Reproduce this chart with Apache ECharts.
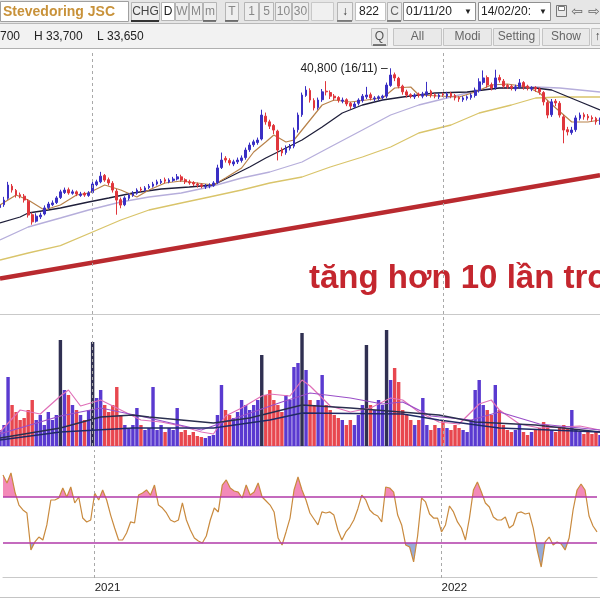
<!DOCTYPE html>
<html><head><meta charset="utf-8">
<script src="https://cdn.jsdelivr.net/npm/echarts@6/dist/echarts.min.js"></script>
<style>html,body{margin:0;padding:0;background:#fff}#c{width:600px;height:600px}</style>
</head><body><div id="c"></div>
<script>
// ---------- DATA ----------
const openP = [
21.3,21.7,22.6,24.3,23.7,23.1,22.9,22.2,20.3,19.4,
20.0,20.4,21.3,21.7,22.0,22.7,23.4,23.8,23.3,23.5,
23.0,23.3,23.0,23.4,24.5,24.9,25.8,25.2,24.7,23.6,
22.4,21.7,22.6,23.0,23.3,23.9,23.7,24.1,24.3,24.6,
24.8,25.2,24.9,25.1,25.3,25.6,25.2,24.9,24.8,24.6,
24.5,24.2,24.3,24.4,24.8,26.9,28.2,27.9,27.4,27.7,
27.9,28.3,29.4,30.1,30.4,30.9,34.1,33.3,32.8,32.0,
29.4,29.0,29.6,29.9,32.2,34.3,37.0,37.7,36.3,35.3,
36.4,37.6,37.4,36.9,36.7,36.2,36.4,35.9,35.4,35.9,
36.3,36.8,37.1,36.5,36.6,36.7,36.9,38.4,39.9,39.4,
38.3,37.5,37.1,36.8,37.2,36.9,37.1,37.6,37.1,36.8,
37.2,36.9,37.3,37.0,36.7,36.4,36.6,36.7,37.0,37.7,
38.8,39.5,38.5,38.1,39.5,39.0,38.4,38.3,37.9,38.2,
38.8,38.3,37.9,38.1,37.9,37.4,36.0,34.3,36.2,35.9,
34.0,32.2,31.8,32.2,33.8,34.3,34.1,33.9,33.8,33.2];
const closeP = [
21.65,22.35,24.45,23.75,23.05,22.9,22.35,20.25,19.3,20.1,
20.25,21.25,21.8,21.95,22.65,23.5,23.75,23.35,23.5,23.2,
23.2,23.05,23.35,24.6,24.9,25.7,25.15,24.75,23.75,22.35,
21.65,22.65,23.05,23.35,23.75,23.75,24.05,24.3,24.6,24.9,
25.0,25.0,25.15,25.3,25.6,25.15,24.9,24.75,24.6,24.45,
24.3,24.3,24.45,24.75,26.85,27.95,27.95,27.55,27.7,27.95,
28.25,29.35,30.05,30.5,30.75,34.25,33.3,32.7,32.15,29.35,
28.95,29.65,29.9,32.15,34.25,37.05,37.75,36.35,35.25,36.35,
37.5,37.5,36.9,36.65,36.35,36.35,35.8,35.5,35.8,36.35,
36.9,37.05,36.65,36.65,36.8,36.9,38.45,39.85,39.45,38.3,
37.5,37.05,36.9,37.05,37.05,37.2,37.5,37.05,36.9,37.05,
37.05,37.2,36.9,36.65,36.5,36.65,36.8,37.05,37.75,38.9,
39.45,38.45,38.05,39.45,39.15,38.3,38.2,38.05,38.2,38.75,
38.2,38.05,38.05,37.9,37.5,36.1,34.25,36.1,35.95,34.25,
32.15,31.9,32.15,33.85,34.25,34.0,33.85,33.7,33.3,33.55];
const highP = [
22.1,22.8,24.9,24.6,23.9,23.4,23.2,22.5,20.6,20.5,
20.6,21.6,22.1,22.3,22.9,23.8,24.1,24.1,23.8,23.7,
23.5,23.5,23.6,24.9,25.2,26.3,26.0,25.5,25.0,23.9,
22.7,22.9,23.3,23.6,24.0,24.2,24.3,24.6,24.9,25.2,
25.3,25.5,25.4,25.6,26.0,25.9,25.4,25.2,25.0,24.8,
24.7,24.6,24.7,25.0,27.3,29.0,28.5,28.2,28.0,28.3,
28.6,29.7,30.4,30.8,31.1,35.0,34.6,33.6,33.0,32.2,
29.7,30.0,30.2,32.5,34.6,37.4,38.3,38.0,36.6,36.7,
37.9,39.0,37.7,37.2,36.9,36.7,36.6,36.1,36.1,36.6,
37.2,38.2,37.4,36.9,37.0,37.1,38.8,40.8,40.2,39.6,
38.5,37.8,37.3,37.3,37.4,37.5,38.9,37.8,37.3,37.3,
37.4,37.5,37.5,37.2,36.9,36.9,37.0,37.3,38.1,39.4,
40.5,39.8,38.8,40.6,39.9,39.3,38.6,38.5,38.5,39.3,
39.0,38.5,38.3,38.3,38.1,37.6,36.3,36.5,36.5,36.2,
34.3,32.6,32.6,34.2,34.6,34.6,34.4,34.2,34.0,33.9];
const lowP = [
21.0,21.4,22.4,23.4,22.7,22.6,22.0,19.9,18.9,19.2,
19.7,20.2,21.1,21.5,21.8,22.5,23.2,23.1,23.1,22.9,
22.8,22.8,22.8,23.2,24.3,24.7,24.9,24.4,23.4,20.3,
21.2,21.5,22.3,22.8,23.1,23.5,23.5,23.9,24.1,24.4,
24.6,24.7,24.7,24.9,25.1,24.9,24.6,24.5,24.3,24.1,
24.0,23.9,24.0,24.2,24.6,26.7,27.6,27.2,27.1,27.4,
27.6,28.0,29.1,29.8,30.1,30.7,32.9,32.3,31.6,27.9,
28.5,28.7,29.3,29.6,31.8,34.0,36.8,36.0,34.9,35.0,
36.1,37.0,36.5,36.3,36.0,35.9,35.5,35.1,35.2,35.6,
36.0,36.5,36.3,36.2,36.3,36.4,36.6,38.2,39.0,38.0,
37.1,36.7,36.6,36.5,36.7,36.6,36.8,36.7,36.6,36.5,
36.8,36.6,36.6,36.3,36.1,36.1,36.3,36.4,36.7,37.4,
38.5,38.1,37.7,37.8,38.8,38.0,37.9,37.7,37.6,37.9,
37.8,37.7,37.6,37.5,37.1,35.6,33.8,34.0,35.5,33.9,
30.3,31.4,31.5,31.9,33.5,33.6,33.5,33.3,32.9,32.9];
const volume = [
80,105,345,205,170,130,140,180,230,130,
155,105,170,130,155,530,280,255,205,180,
155,130,180,520,240,280,205,170,205,295,
155,105,90,105,190,105,80,90,295,80,
105,70,90,80,190,70,80,55,70,50,
45,40,50,55,155,305,180,155,140,170,
230,205,180,205,230,455,255,280,230,205,
170,255,230,395,415,565,380,230,205,230,
355,205,180,155,140,130,105,130,105,155,
205,505,205,180,230,205,580,330,390,320,
180,155,130,105,130,240,105,80,105,90,
130,90,80,105,90,80,70,130,280,330,
205,180,155,305,180,105,80,70,80,105,
70,55,70,80,90,120,105,80,70,90,
105,90,180,80,70,60,70,60,70,55];
const rsi = [
89.1,82.2,90.9,74.3,63.0,58.7,56.1,23.9,30.9,35.2,
32.6,45.7,67.4,67.4,69.1,77.8,70.0,78.7,64.8,70.0,
51.7,48.3,50.0,73.5,67.4,76.1,67.4,54.3,43.0,32.6,
32.6,38.7,48.3,47.4,71.7,73.5,76.1,71.7,80.4,63.0,
60.4,56.1,50.0,48.3,50.0,64.8,50.0,41.3,34.3,31.7,
30.0,36.1,50.0,60.4,57.0,80.4,84.8,77.8,75.2,74.3,
69.1,80.4,71.7,74.3,82.2,70.0,66.5,63.0,57.0,34.3,
28.3,39.6,51.7,76.1,87.4,76.1,67.4,56.1,50.9,45.7,
57.0,56.1,57.0,54.3,41.3,32.6,39.6,43.9,50.0,59.6,
71.7,67.4,58.7,55.2,53.5,48.3,78.7,77.8,74.3,54.3,
45.7,28.3,26.5,13.5,36.1,69.1,65.7,55.2,51.7,51.7,
39.6,45.7,62.2,57.0,48.3,43.0,32.6,51.7,76.1,83.0,
74.3,64.8,61.3,52.6,50.0,50.0,52.6,43.0,45.7,56.1,
57.0,55.2,56.1,43.0,23.9,9.1,30.9,35.2,28.3,30.9,
29.1,23.9,34.3,58.7,76.1,81.3,76.1,53.5,44.8,39.6];

// moving averages read at sparse points (sample index, value)
const maFastIdx = [0,4,7,11,15,19,22,26,30,34,37,41,45,49,53,56,60,63,66,68,71,73,76,80,83,87,91,95,98,102,104,109,114,118,122,126,131,134,138,142,146,149];
const maFastVal = [21.66,23.06,22.36,20.96,21.66,23.06,23.34,24.46,23.76,22.78,23.76,24.74,25.02,24.74,24.46,25.44,26.84,29.08,30.48,31.46,30.48,30.76,32.86,35.66,36.36,36.08,36.36,36.64,38.04,38.18,37.06,36.92,36.78,37.48,38.46,38.60,38.18,37.34,35.24,33.28,33.28,33.56];
const maMidIdx = [0,5,7,12,15,22,27,33,40,47,53,58,62,66,70,75,80,85,90,95,100,108,116,124,133,137,143,149];
const maMidVal = [19.14,19.98,20.54,20.96,21.24,22.08,22.64,23.34,23.90,24.18,24.46,25.86,26.98,28.24,29.36,30.76,32.58,34.54,35.66,36.36,36.78,37.34,37.48,38.04,38.04,37.76,36.36,34.96];
const maSlowIdx = [0,7,15,22,30,37,45,52,60,67,75,82,90,97,104,112,119,124,133,139,149];
const maSlowVal = [16.76,18.58,19.84,20.96,22.08,22.78,23.34,24.18,25.44,26.28,27.68,29.78,32.16,34.26,35.66,36.78,37.76,38.04,38.18,38.04,37.48];
const maLongIdx = [0,7,15,23,30,37,45,52,60,67,75,82,90,97,104,112,119,127,133,139,149];
const maLongVal = [13.96,14.94,15.96,17.88,19.56,20.96,21.94,22.78,23.76,24.74,25.58,26.98,28.38,29.78,31.74,32.86,34.54,35.66,36.64,36.78,36.78];
const trendIdx = [0,149];
const trendVal = [11.37,25.83];

const volMaAIdx = [0,15,25,33,37,45,53,62,75,87,109,118,133,149];
const volMaAVal = [40,90,145,155,145,130,115,140,205,190,155,120,105,70];
const volMaBIdx = [0,15,33,53,67,75,100,109,124,149];
const volMaBVal = [30,70,90,90,130,165,160,130,90,70];
const volMaPinkIdx = [0,5,10,15,17,20,25,30,35,40,45,50,53,56,60,65,67,72,75,77,82,87,92,97,100,104,109,114,119,122,124,129,134,139,144,149];
const volMaPinkVal = [70,180,160,250,280,200,230,180,130,120,100,70,60,150,190,250,260,250,330,300,200,170,190,240,230,170,120,110,210,230,180,110,90,95,100,80];
const volMaPurpIdx = [0,15,25,37,50,60,70,77,87,95,100,107,117,124,134,149];
const volMaPurpVal = [60,150,190,140,80,150,220,265,240,210,220,150,130,170,110,80];

const yearTicks = {23:'2021', 110:'2022'};
const rsiLevels = [70, 30];
const peakText = '40,800 (16/11)';
const headline = 'tăng hơn 10 lần tro';
const stockName = 'Stevedoring JSC';
const quoteInfo = ['700', 'H 33,700', 'L 33,650'];

// ---------- BUILD ----------
const cats = closeP.map((_, i) => String(i));
const lastIdx = cats.length - 1;
const pairs = (idx, val) => idx.map((k, j) => [k, val[j]]);
const yearLines = Object.keys(yearTicks).map(k => ({xAxis: +k}));
const dashed = {silent:true, symbol:['none','none'], label:{show:false},
  lineStyle:{type:[3,3], color:'#a9a9a9', width:1}, data: yearLines, animation:false};

const FONT = '"Liberation Sans", Arial, sans-serif';
const G = [];
function rect(x,y,w,h,fill,stroke){G.push({type:'rect',shape:{x,y,width:w,height:h},style:{fill,stroke:stroke||null,lineWidth:1},silent:true});}
function txt(x,y,t,o){G.push({type:'text',x,y,style:Object.assign({text:t,fill:'#333',font:'12px '+FONT,textVerticalAlign:'middle'},o||{}),silent:true});}
function ln(x1,y1,x2,y2,c,w){G.push({type:'line',shape:{x1,y1,x2,y2},style:{stroke:c,lineWidth:w||1},silent:true});}

// toolbar row 1
rect(0,0,600,23,'#e6e6e6');
rect(0.5,1.5,128,20,'#ffffff','#a0a0a0');
txt(3,12,stockName,{fill:'#c8923a',font:'bold 14px '+FONT});
function btn(x,w,label,col,bg){rect(x+0.5,2.5,w,18,bg||'#eeeeee','#b5b5b5');txt(x+w/2+0.5,12,label,{fill:col||'#888',textAlign:'center'});}
btn(131,28,'CHG','#444'); ln(131,21,159,21,'#333',2);
btn(161,13,'D','#222','#ffffff');
btn(175,13,'W'); btn(189,13,'M'); btn(203,13,'m'); ln(203,21,216,21,'#555',1.5);
btn(225,13,'T'); ln(225,21,238,21,'#555',1.5);
btn(244,14,'1'); btn(259,14,'5'); btn(275,16,'10'); btn(292,16,'30');
rect(311.5,2.5,22,18,'#f0f0f0','#c8c8c8');
btn(337,15,'↓','#333'); ln(337,21,352,21,'#666',1.5);
rect(355.5,2.5,30,18,'#ffffff','#c0c0c0'); txt(359,12,'822',{fill:'#222'});
btn(387,14,'C','#666'); ln(387,21,401,21,'#666',1.5);
rect(403.5,2.5,72,18,'#ffffff','#909090'); txt(406,12,'01/11/20',{fill:'#222'}); txt(468,12,'▼',{fill:'#222',font:'8px '+FONT,textAlign:'center'});
rect(478.5,2.5,72,18,'#ffffff','#909090'); txt(481,12,'14/02/20:',{fill:'#222'}); txt(543,12,'▼',{fill:'#222',font:'8px '+FONT,textAlign:'center'});
rect(556.5,5.5,10,11,'#e8e8e8','#777'); rect(558.5,6.5,6,4,'#ffffff','#777');
txt(577,12,'⇦',{fill:'#666',font:'14px "DejaVu Sans"',textAlign:'center'});
txt(594,12,'⇨',{fill:'#666',font:'14px "DejaVu Sans"',textAlign:'center'});
// toolbar row 2
rect(0,23,600,25,'#f2f2f2');
ln(0,23.5,600,23.5,'#b8b8b8');
txt(0,37,quoteInfo[0],{fill:'#222'}); txt(34,37,quoteInfo[1],{fill:'#222'}); txt(97,37,quoteInfo[2],{fill:'#222'});
function btn2(x,w,label,col){rect(x+0.5,28.5,w,17,'#e9e9e9','#c4c4c4');txt(x+w/2+0.5,37,label,{fill:col||'#666',textAlign:'center'});}
btn2(371,16,'Q','#555'); ln(373,45,386,45,'#555',1.5);
btn2(393,48,'All'); btn2(443,48,'Modi'); btn2(493,46,'Setting'); btn2(542,47,'Show');
btn2(591,12,'↑','#444');
ln(0,48.5,600,48.5,'#b0b0b0');
// bottom frame line
ln(0,597.5,600,597.5,'#c4c4c4');
// headline
txt(309,279,headline,{fill:'#c4262e',font:'bold 33px '+FONT});

const chart = echarts.init(document.getElementById('c'), null, {renderer:'canvas'});
const gridBase = {left:0, right:0};
chart.setOption({
  animation:false,
  backgroundColor:'#ffffff',
  graphic: G,
  grid:[
    Object.assign({top:50, height:264}, gridBase),
    Object.assign({top:316, height:130}, gridBase),
    Object.assign({top:450, height:128}, gridBase)
  ],
  xAxis:[0,1,2].map(g => ({
    type:'category', data:cats, gridIndex:g, boundaryGap:false,
    axisLine:{show:true, lineStyle:{color: g===1 ? '#b9b2e6' : '#c9c9c9', width: g===1 ? 1.5 : 1}},
    axisTick:{show:false},
    axisLabel: g===2 ? {show:true, interval:0, align:'left', margin:4, fontSize:11.5, color:'#222', fontFamily:FONT,
        formatter:(v, i) => yearTicks[i] || ''} : {show:false},
    splitLine:{show:false}
  })),
  yAxis:[
    {gridIndex:0, min:6.40, max:43.36, show:false, scale:true},
    {gridIndex:1, min:0, max:650, show:false},
    {gridIndex:2, min:-0.44, max:110.87, show:false}
  ],
  visualMap:[{
    type:'piecewise', show:false, seriesIndex:12, dimension:1,
    pieces:[{gt:rsiLevels[0], color:'#f38ab8'},{gte:rsiLevels[1], lte:rsiLevels[0], color:'rgba(255,255,255,0)'},{lt:rsiLevels[1], color:'#98acd8'}]
  }],
  series:[
    {type:'line', name:'trend', xAxisIndex:0, yAxisIndex:0, data:pairs(trendIdx,trendVal), symbol:'none',
      lineStyle:{color:'#b92a2f', width:4.5}, z:2, markLine:dashed},
    {type:'line', name:'MA long', xAxisIndex:0, yAxisIndex:0, data:pairs(maLongIdx,maLongVal), symbol:'none', lineStyle:{color:'#d9c46a', width:1.3}, z:2},
    {type:'line', name:'MA slow', xAxisIndex:0, yAxisIndex:0, data:pairs(maSlowIdx,maSlowVal), symbol:'none', lineStyle:{color:'#b6aedb', width:1.3}, z:2},
    {type:'line', name:'MA mid', xAxisIndex:0, yAxisIndex:0, data:pairs(maMidIdx,maMidVal), symbol:'none', lineStyle:{color:'#1f1f3a', width:1.3}, z:2},
    {type:'line', name:'MA fast', xAxisIndex:0, yAxisIndex:0, data:pairs(maFastIdx,maFastVal), symbol:'none', lineStyle:{color:'#b8824a', width:1.2}, z:3},
    {type:'candlestick', name:'price', xAxisIndex:0, yAxisIndex:0, barWidth:'55%', z:4,
      data: closeP.map((c,i) => [openP[i], c, lowP[i], highP[i]]),
      itemStyle:{color:'#3a2fc4', color0:'#e0363c', borderColor:'#3a2fc4', borderColor0:'#e0363c', borderWidth:1},
      markPoint:{symbol:'circle', symbolSize:0, data:[{type:'max', valueDim:'highest'}],
        label:{show:true, position:'left', distance:3, formatter: peakText + ' –', color:'#222', fontSize:12, fontFamily:FONT}}
    },
    {type:'bar', name:'volume', xAxisIndex:1, yAxisIndex:1, barWidth:'85%', z:2,
      data: volume.map((v,i) => ({value:v, itemStyle:{color: v >= 440 ? '#303052' : (closeP[i] >= openP[i] ? '#5a3ad0' : '#e8474f')}})),
      markLine:dashed},
    {type:'line', xAxisIndex:1, yAxisIndex:1, data:pairs(volMaPinkIdx,volMaPinkVal), symbol:'none', lineStyle:{color:'#e070b8', width:1.2}, z:3},
    {type:'line', xAxisIndex:1, yAxisIndex:1, data:pairs(volMaPurpIdx,volMaPurpVal), symbol:'none', lineStyle:{color:'#9a4fc8', width:1.2}, z:3},
    {type:'line', xAxisIndex:1, yAxisIndex:1, data:pairs(volMaAIdx,volMaAVal), symbol:'none', lineStyle:{color:'#2a2f4f', width:1.4}, z:4},
    {type:'line', xAxisIndex:1, yAxisIndex:1, data:pairs(volMaBIdx,volMaBVal), symbol:'none', lineStyle:{color:'#202a66', width:1.4}, z:4},
    {type:'line', xAxisIndex:2, yAxisIndex:2, data:[], symbol:'none', markLine:dashed},
    {type:'line', name:'RSI fill', xAxisIndex:2, yAxisIndex:2, data:rsi, symbol:'none',
      lineStyle:{width:0, opacity:0}, areaStyle:{origin:rsiLevels[0], opacity:1}, z:2},
    {type:'line', name:'RSI', xAxisIndex:2, yAxisIndex:2, data:rsi, symbol:'none',
      lineStyle:{color:'#c98a3e', width:1.2}, z:4,
      markLine:{silent:true, symbol:['none','none'], label:{show:false},
        lineStyle:{type:'solid', color:'#b03aa8', width:1.5},
        data: rsiLevels.map(v => [{xAxis:0, yAxis:v}, {xAxis:lastIdx, yAxis:v}])}}
  ]
});
</script>
</body></html>
